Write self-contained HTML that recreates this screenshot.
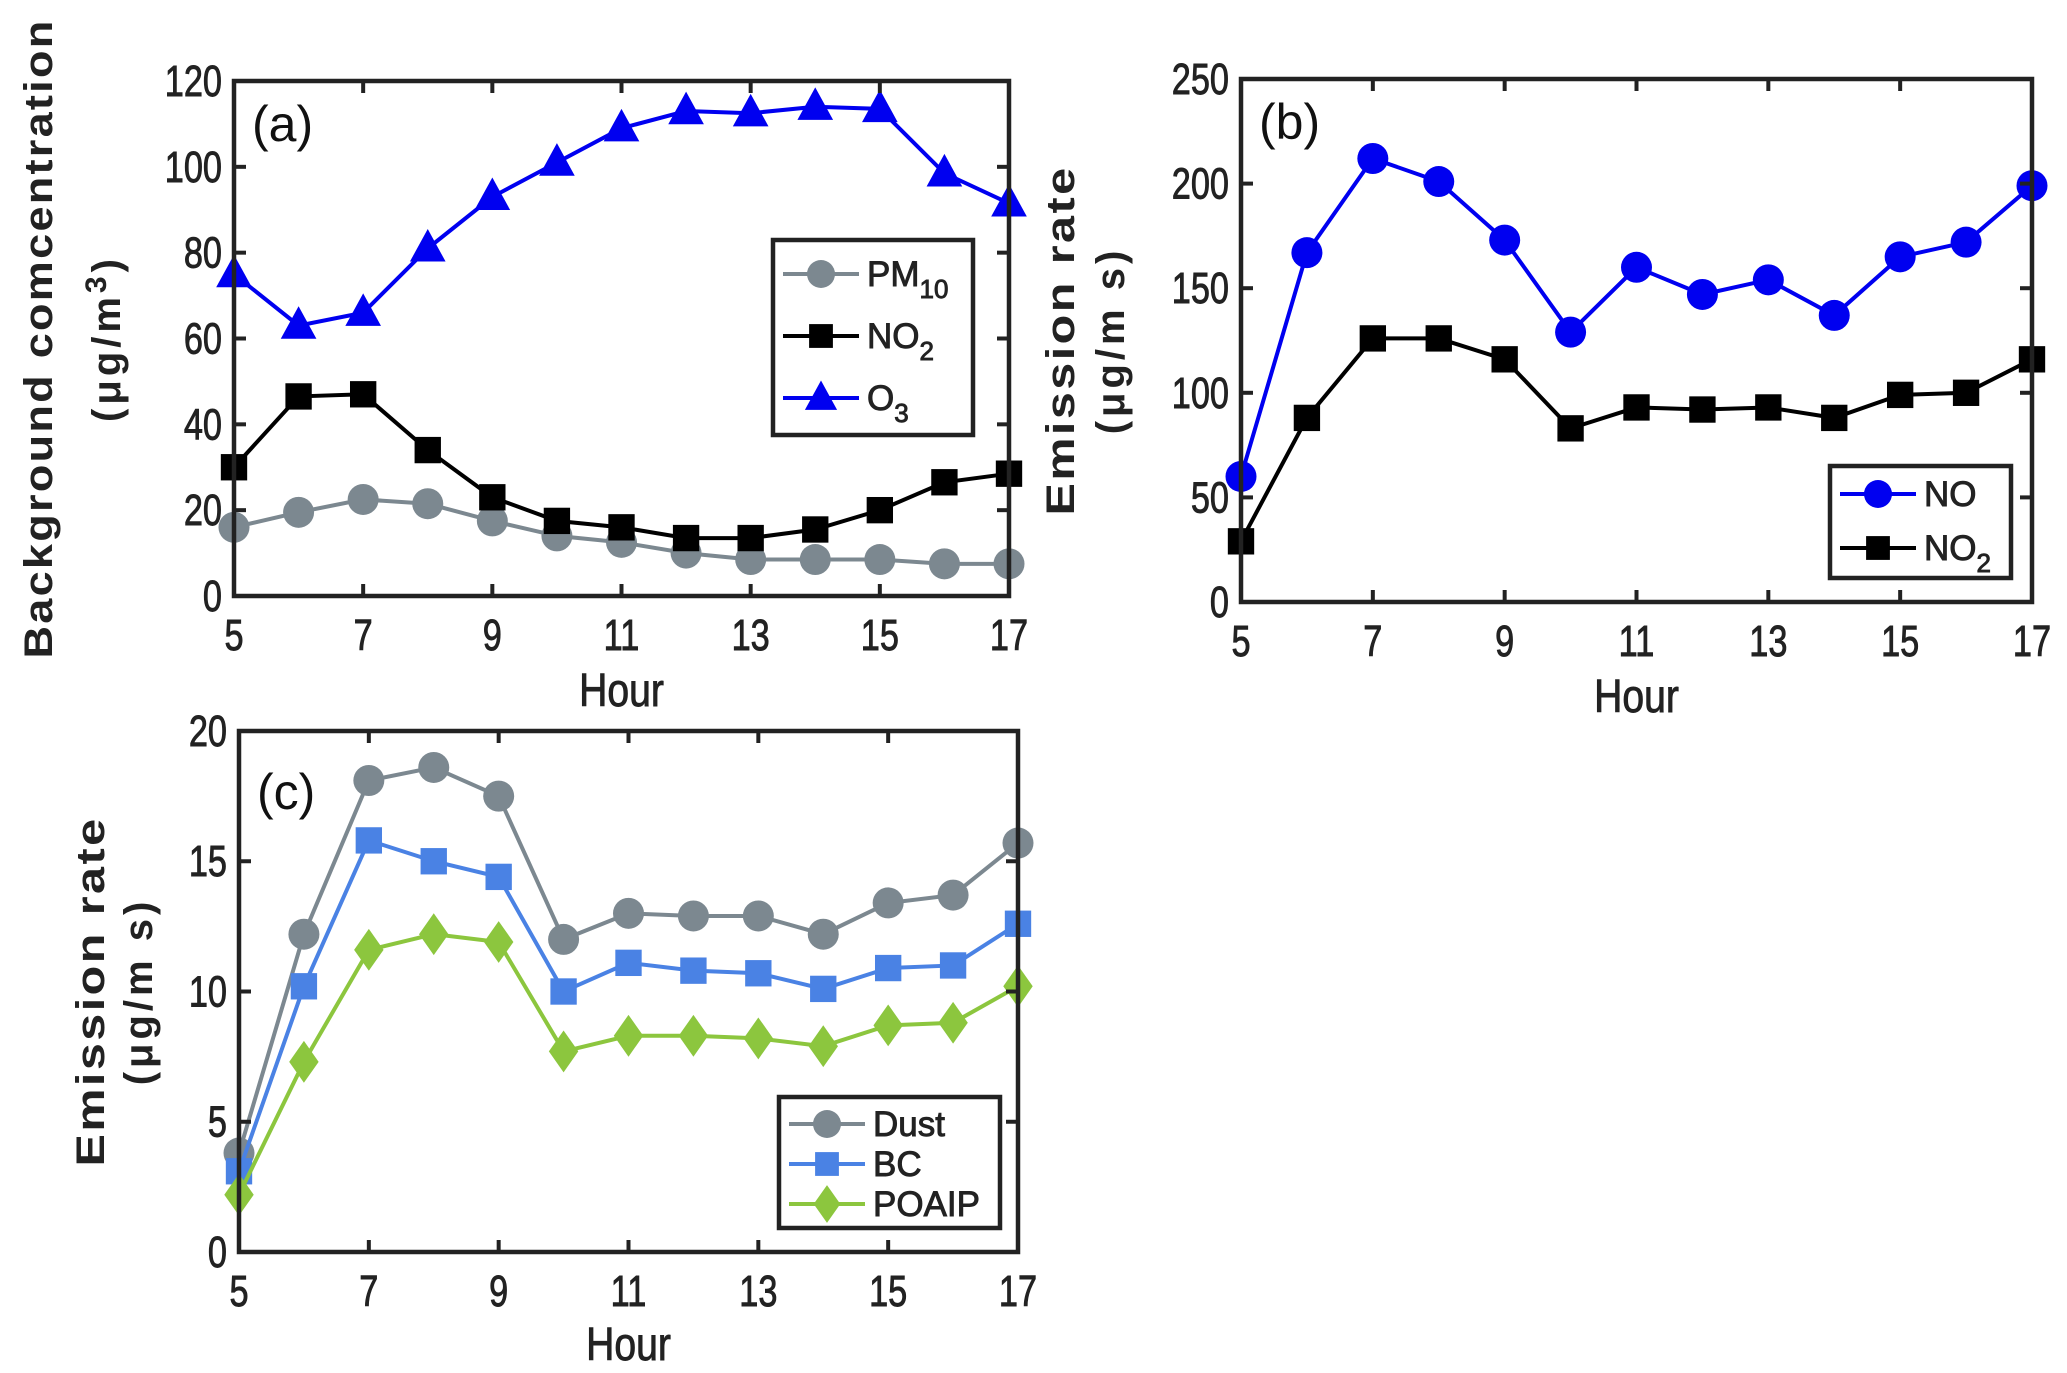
<!DOCTYPE html>
<html><head><meta charset="utf-8"><style>
html,body{margin:0;padding:0;background:#fff;}
svg{display:block;font-family:"Liberation Sans",sans-serif;}
</style></head><body>
<svg id="fig" width="2067" height="1373" viewBox="0 0 2067 1373" xmlns="http://www.w3.org/2000/svg"></svg>
<script>
const hours = [5,6,7,8,9,10,11,12,13,14,15,16,17];
const xTicks = [5,7,9,11,13,15,17];
const aTicks = [0,20,40,60,80,100,120];
const bTicks = [0,50,100,150,200,250];
const cTicks = [0,5,10,15,20];
const aO3 = [75,63,66,81,93,101,109,113,112.5,114,113.5,98.5,91.5];
const aNO2 = [30,46.5,47,34,23,17.5,16,13.5,13.5,15.5,20,26.5,28.5];
const aPM10 = [16,19.5,22.5,21.5,17.5,14,12.5,10,8.5,8.5,8.5,7.5,7.5];
const bNO = [60,167,212,201,173,129,160,147,154,137,165,172,199];
const bNO2 = [29,88,126,126,116,83,93,92,93,88,99,100,116];
const cDust = [3.8,12.2,18.1,18.6,17.5,12,13,12.9,12.9,12.2,13.4,13.7,15.7];
const cBC = [3.1,10.2,15.8,15,14.4,10,11.1,10.8,10.7,10.1,10.9,11,12.6];
const cPOAIP = [2.2,7.3,11.6,12.2,11.9,7.7,8.3,8.3,8.2,7.9,8.7,8.8,10.2];

const NS="http://www.w3.org/2000/svg";
const svg=document.getElementById('fig');
function mk(tag,attrs,parent){const e=document.createElementNS(NS,tag);for(const k in attrs)e.setAttribute(k,attrs[k]);(parent||svg).appendChild(e);return e;}

function marker(g,type,x,y,color,s){
  let e;
  if(type==='circle') e=mk('circle',{cx:x,cy:y,r:s,fill:color},g);
  else if(type==='square') e=mk('rect',{x:x-s*0.85,y:y-s*0.85,width:s*1.7,height:s*1.7,fill:color},g);
  else if(type==='tri') e=mk('polygon',{points:`${x},${y-s*1.25} ${x-s*1.15},${y+s*0.85} ${x+s*1.15},${y+s*0.85}`,fill:color},g);
  else e=mk('polygon',{points:`${x},${y-s*1.35} ${x+s*0.95},${y} ${x},${y+s*1.35} ${x-s*0.95},${y}`,fill:color},g);
  return e;
}
const TXT={fill:'#222',stroke:'#222','stroke-width':0.9};

function panel(p){
  const g=mk('g',{});
  
  
  const xs=v=>p.L+(v-5)/12*(p.R-p.L);
  const ys=v=>p.B-(v-p.ymin)/(p.ymax-p.ymin)*(p.B-p.T);
  p.series.forEach(s=>{
    const sg=mk('g',{},g);
    
    
    const pts=hours.map((h,i)=>xs(h)+','+ys(s.data[i])).join(' ');
    const ln=mk('polyline',{points:pts,fill:'none',stroke:s.color,'stroke-width':4},sg);
    
    
    hours.forEach((h,i)=>{
      const m=marker(sg,s.m,xs(h),ys(s.data[i]),s.color,15.5);
      
      
    });
  });
  const fr=mk('rect',{x:p.L,y:p.T,width:p.R-p.L,height:p.B-p.T,fill:'none',stroke:'#222','stroke-width':4.5},g);
  
  
  xTicks.forEach(t=>{
    const x=xs(t);
    mk('line',{x1:x,y1:p.B,x2:x,y2:p.B-12,stroke:'#222','stroke-width':4},g);
    mk('line',{x1:x,y1:p.T,x2:x,y2:p.T+12,stroke:'#222','stroke-width':4},g);
    const tx=mk('text',Object.assign({x:x,y:p.B+54,'font-size':44,'text-anchor':'middle',transform:`translate(${x},0) scale(0.78,1) translate(${-x},0)`},TXT),g);
    tx.textContent=t;
    
    
  });
  p.yTicks.forEach(t=>{
    const y=ys(t);
    mk('line',{x1:p.L,y1:y,x2:p.L+12,y2:y,stroke:'#222','stroke-width':4},g);
    mk('line',{x1:p.R,y1:y,x2:p.R-12,y2:y,stroke:'#222','stroke-width':4},g);
    const xx=p.L-12;
    const tx=mk('text',Object.assign({x:xx,y:y+15,'font-size':44,'text-anchor':'end',transform:`translate(${xx},0) scale(0.78,1) translate(${-xx},0)`},TXT),g);
    tx.textContent=t;
    
    
  });
  const hx=(p.L+p.R)/2;
  const xl=mk('text',Object.assign({x:hx,y:p.hourY,'font-size':46,'text-anchor':'middle',transform:`translate(${hx},0) scale(0.85,1) translate(${-hx},0)`},TXT),g);
  xl.textContent='Hour';
  
  
  const pl=mk('text',{x:p.L+18,y:p.T+p.lblDy,'font-size':50,fill:'#111'},g);
  pl.textContent=p.label;
  
  
  const cy=(p.T+p.B)/2;
  const y1=mk('text',{x:p.y1x,y:cy,'font-size':40,'font-weight':'bold','text-anchor':'middle',fill:'#222','letter-spacing':2,transform:`rotate(-90 ${p.y1x} ${cy})`},g);
  y1.textContent=p.y1;
  y1.setAttribute('textLength',p.y1len);
  y1.setAttribute('lengthAdjust','spacingAndGlyphs');
  
  
  const y2=mk('text',{x:p.y2x,y:cy,'font-size':40,'font-weight':'bold','text-anchor':'middle',fill:'#222','letter-spacing':4,transform:`rotate(-90 ${p.y2x} ${cy})`},g);
  y2.innerHTML=p.y2;
  
  
  const lg=mk('g',{},g);
  
  
  mk('rect',{x:p.leg[0],y:p.leg[1],width:p.leg[2],height:p.leg[3],fill:'#fff',stroke:'#222','stroke-width':4.5},lg);
  p.legOrder.forEach((k,i)=>{
    const s=p.series.find(q=>q.key===k);
    const ey=p.leg[1]+p.legY0+i*p.legDy;
    const eg=mk('g',{},lg);
    
    
    const lx=p.leg[0]+10;
    mk('line',{x1:lx,y1:ey,x2:lx+76,y2:ey,stroke:s.color,'stroke-width':4},eg);
    marker(eg,s.m,lx+38,ey,s.color,14);
    const t=mk('text',Object.assign({x:lx+84,y:ey+12,'font-size':35},TXT),eg);
    t.innerHTML=s.leg;
  });
}

const gray='#7c8890', blue='#0000f0';
panel({name:'panel-a',L:234,R:1009,T:81,B:596,ymin:0,ymax:120,yTicks:aTicks,hourY:706,label:'(a)',lblDy:60,
  y1:'Background comcentration',y1x:52,y1len:640,y2:'(\u03bcg/m<tspan dy="-14" font-size="30">3</tspan><tspan dy="14">)</tspan>',y2x:120,
  leg:[773,240,200,195],legY0:34,legDy:62,legOrder:['pm10','no2a','o3'],
  series:[{key:'pm10',data:aPM10,color:gray,m:'circle',leg:'PM<tspan dy="12" font-size="26">10</tspan>'},
          {key:'no2a',data:aNO2,color:'#000',m:'square',leg:'NO<tspan dy="12" font-size="26">2</tspan>'},
          {key:'o3',data:aO3,color:blue,m:'tri',leg:'O<tspan dy="12" font-size="26">3</tspan>'}]});
panel({name:'panel-b',L:1241,R:2032,T:79,B:602,ymin:0,ymax:250,yTicks:bTicks,hourY:712,label:'(b)',lblDy:60,
  y1:'Emission rate',y1x:1074,y1len:350,y2:'(\u03bcg/m s)',y2x:1124,
  leg:[1830,466,181,112],legY0:28,legDy:54,legOrder:['no','no2b'],
  series:[{key:'no',data:bNO,color:blue,m:'circle',leg:'NO'},
          {key:'no2b',data:bNO2,color:'#000',m:'square',leg:'NO<tspan dy="12" font-size="26">2</tspan>'}]});
panel({name:'panel-c',L:239,R:1018,T:731,B:1252,ymin:0,ymax:20,yTicks:cTicks,hourY:1360,label:'(c)',lblDy:78,
  y1:'Emission rate',y1x:104,y1len:350,y2:'(\u03bcg/m s)',y2x:152,
  leg:[779,1097,221,131],legY0:27,legDy:40,legOrder:['dust','bc','poaip'],
  series:[{key:'dust',data:cDust,color:'#7c8890',m:'circle',leg:'Dust'},
          {key:'bc',data:cBC,color:'#4a82e4',m:'square',leg:'BC'},
          {key:'poaip',data:cPOAIP,color:'#8cc63e',m:'diamond',leg:'POAIP'}]});
</script>
</body></html>
